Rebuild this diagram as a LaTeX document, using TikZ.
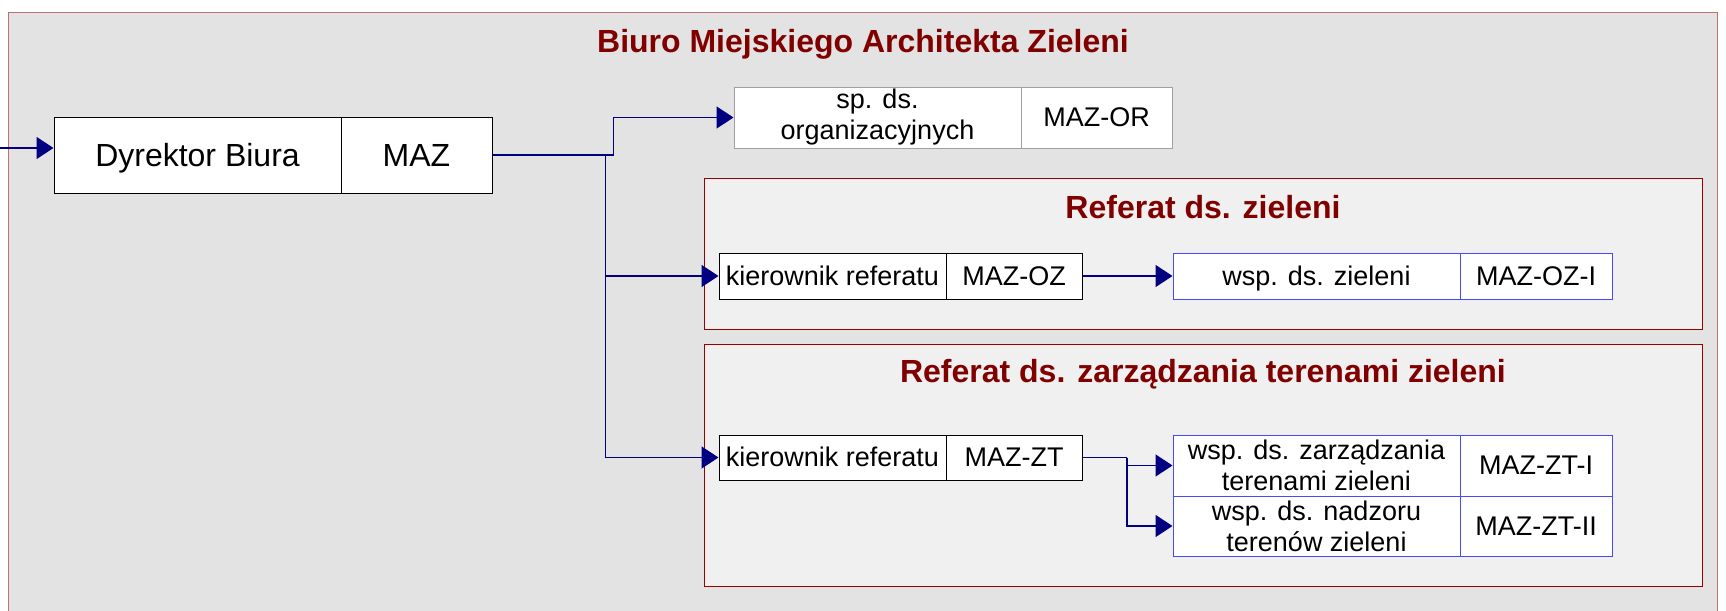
\documentclass[tikz,border=0pt]{standalone}
\usepackage{fontspec}
\setmainfont{Liberation Sans}
\usepackage{tikz}
\usetikzlibrary{arrows.meta}
\definecolor{tlo}{HTML}{E3E3E3}
\definecolor{tloref}{HTML}{F0F0F0}
\definecolor{ramka}{HTML}{C07070}
\definecolor{ramkaref}{HTML}{990000}
\definecolor{tytul}{HTML}{800000}
\definecolor{linia}{HTML}{000080}
\definecolor{niebieski}{HTML}{4848FF}
\definecolor{szary}{HTML}{A0A0A0}
\tikzset{>={Triangle[length=8.5pt,width=11pt]}}

\begin{document}
\begin{tikzpicture}[x=0.5pt,y=-0.5pt,
	kom/.style={draw,fill=white,line width=0.5pt,inner sep=0pt,align=center},
	duzy/.style={font=\fontsize{16}{18.4}\selectfont,text height=11.5pt,text depth=0.5pt},
	maly/.style={font=\fontsize{13.5}{15.5}\selectfont,text height=9.7pt,text depth=0.5pt},
	dwa/.style={font=\fontsize{13.5}{15.5}\selectfont},
	tytul/.style={font=\fontsize{16}{18.4}\selectfont\bfseries,text=tytul,anchor=base},
	pol/.style={draw=linia,line width=0.75pt}]
	\clip (0,0) rectangle (1726,611);
	\draw[ramka,line width=0.5pt,fill=tlo] (8.7,12) rectangle (1717,640);
	\node[tytul] (biuro) at (863,52) {Biuro Miejskiego Architekta Zieleni};
	\draw[ramkaref,line width=0.5pt,fill=tloref] (704,178) rectangle (1702,329);
	\node[tytul] (refoz) at (1203,218) {Referat ds. zieleni};
	\draw[ramkaref,line width=0.5pt,fill=tloref] (704,344) rectangle (1702,586);
	\node[tytul] (refzt) at (1203,382) {Referat ds. zarządzania terenami zieleni};
	\node[kom,duzy,minimum width=143.5pt,minimum height=38pt] (dyr) at (197.5,155) {Dyrektor Biura};
	\node[kom,duzy,minimum width=75.5pt,minimum height=38pt] (maz) at (416.5,155) {MAZ};
	\node[kom,dwa,draw=szary,minimum width=143.5pt,minimum height=30.5pt] (sp) at (877.5,117.5) {sp. ds.\\organizacyjnych};
	\node[kom,maly,draw=szary,minimum width=75.5pt,minimum height=30.5pt] (mazor) at (1096.5,117.5) {MAZ-OR};
	\node[kom,maly,minimum width=113.5pt,minimum height=23pt] (kieroz) at (832.5,276) {kierownik referatu};
	\node[kom,maly,minimum width=68pt,minimum height=23pt] (mazoz) at (1014,276) {MAZ-OZ};
	\node[kom,maly,draw=niebieski,minimum width=143.5pt,minimum height=23pt] (wspoz) at (1316.5,276) {wsp. ds. zieleni};
	\node[kom,maly,draw=niebieski,minimum width=76pt,minimum height=23pt] (mazozi) at (1536,276) {MAZ-OZ-I};
	\node[kom,maly,minimum width=113.5pt,minimum height=22.5pt] (kierzt) at (832.5,457.5) {kierownik referatu};
	\node[kom,maly,minimum width=68pt,minimum height=22.5pt] (mazzt) at (1014,457.5) {MAZ-ZT};
	\node[kom,dwa,draw=niebieski,minimum width=143.5pt,minimum height=30.5pt] (wspzt) at (1316.5,465.5) {wsp. ds. zarządzania\\terenami zieleni};
	\node[kom,maly,draw=niebieski,minimum width=76pt,minimum height=30.5pt] (mazzti) at (1536,465.5) {MAZ-ZT-I};
	\node[kom,dwa,draw=niebieski,minimum width=143.5pt,minimum height=30pt] (wspnz) at (1316.5,526) {wsp. ds. nadzoru\\terenów zieleni};
	\node[kom,maly,draw=niebieski,minimum width=76pt,minimum height=30pt] (mazztii) at (1536,526) {MAZ-ZT-II};
	\coordinate (wejscie) at (0,148);
	\coordinate (pien) at (605.7,155);
	\coordinate (rozg) at (1127,457.5);
	\draw[pol,->] (wejscie) -- (wejscie -| dyr.west);
	\draw[pol,->] (maz.east) -- ++(121,0) |- (sp.west);
	\draw[pol,->] (pien) |- (kieroz.west);
	\draw[pol,->] (pien) |- (kierzt.west);
	\draw[pol,->] (mazoz) -- (wspoz);
	\draw[pol] (mazzt) -- (rozg);
	\draw[pol,->] (rozg) |- (wspzt.west);
	\draw[pol,->] (rozg) |- (wspnz.west);
\end{tikzpicture}
\end{document}
